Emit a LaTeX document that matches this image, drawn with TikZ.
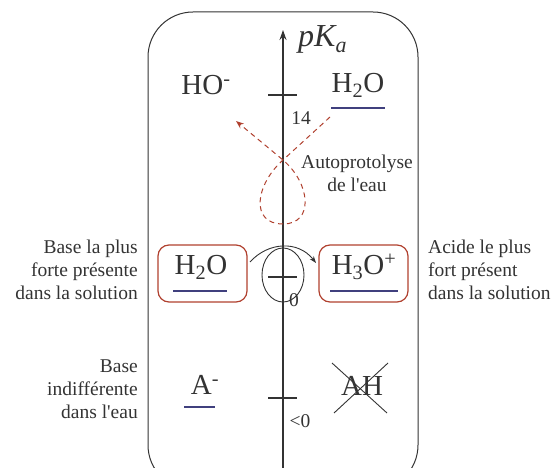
\documentclass[tikz,border=0pt]{standalone}
\usepackage{fontspec}
\setmainfont{Liberation Serif}
\usetikzlibrary{arrows.meta}
\definecolor{ink}{HTML}{333333}
\definecolor{rbox}{HTML}{B0402E}
\definecolor{navy}{HTML}{40407E}
\tikzset{
  big/.style={font=\fontsize{29}{32}\selectfont, text=ink, inner sep=0pt},
  lbl/.style={font=\fontsize{19.5}{23}\selectfont, text=ink, inner sep=0pt},
  ul/.style={navy, line width=1.8pt},
  sp/.style={rbox, line width=1.2pt, rounded corners=11pt},
  tick/.style={ink, line width=1.3pt}
}
\begin{document}
\begin{tikzpicture}[x=1pt,y=-1pt]
\useasboundingbox (0,0) rectangle (559,468);
\clip (0,0) rectangle (559,468);
% frame
\draw[ink, line width=1pt, rounded corners=45pt] (148,12) rectangle (418,490);
% axis
\coordinate (ab) at (283,470);
\coordinate (at) at (283,30);
\draw[ink, line width=1.3pt, -{Stealth[length=10pt,width=7pt]}] (ab) -- (at);
\node[big, anchor=west, font=\fontsize{32}{34}\selectfont\itshape] (pka) at (298,39) {pK\raisebox{-0.45ex}{\fontsize{22}{24}\selectfont a}};
% ticks
\coordinate (t14) at (283,95);
\coordinate (t0) at (283,277);
\coordinate (tn) at (283,398);
\draw[tick] ([xshift=-15pt]t14) -- ([xshift=14pt]t14);
\draw[tick] ([xshift=-15pt]t0) -- ([xshift=14pt]t0);
\draw[tick] ([xshift=-15pt]tn) -- ([xshift=14pt]tn);
\node[lbl] (l14) at (301,118) {14};
\node[lbl] (l0) at (294,300) {0};
\node[lbl] (ln) at (300,421) {<0};
% top species
\node[big] (ho) at (206,85) {HO\textsuperscript{-}};
\node[big] (h2ot) at (358,85) {H\textsubscript{2}O};
\draw[ul] (331,108) -- (385,108);
% autoprotolysis
\node[lbl, align=center] (auto) at (357,173) {Autoprotolyse\\de l\textquotesingle eau};
\coordinate (ds) at (330,117);
\coordinate (dx) at (283,160);
\coordinate (dbot) at (283,224);
\coordinate (de) at (236,121);
\draw[rbox, line width=1pt, dash pattern=on 5pt off 4pt, -{Stealth[length=8pt,width=6pt]}]
  (ds) -- (dx) .. controls (255,185) and (250,224) .. (dbot)
  .. controls (314,224) and (311,184) .. (dx) -- (de);
% middle species
\node[big] (h2om) at (201,267) {H\textsubscript{2}O};
\draw[sp] (158,245) rectangle (247,302);
\draw[ul] (173,291) -- (227,291);
\node[big] (h3o) at (364,267) {H\textsubscript{3}O\textsuperscript{+}};
\draw[sp] (319,245) rectangle (408,302);
\draw[ul] (330,291) -- (398,291);
% black transfer arrow
\coordinate (ta) at (250,262);
\coordinate (tb) at (316,263);
\draw[ink, line width=0.9pt, -{Stealth[length=7pt,width=5pt]}] (ta) .. controls (268,242) and (298,240) .. (tb);
\draw[ink, line width=0.9pt] (283,275) ellipse (21pt and 27pt);
% bottom species
\node[big] (am) at (205,385) {A\textsuperscript{-}};
\draw[ul] (184,407) -- (215,407);
\node[big] (ah) at (362,386) {AH};
\draw[ink, line width=0.9pt] (332,363) -- (387,413);
\draw[ink, line width=0.9pt] (388,363) -- (334,413);
% side labels
\node[lbl, align=right, anchor=east] (bl1) at (138,270) {Base la plus\\forte présente\\dans la solution};
\node[lbl, align=right, anchor=east] (bl2) at (138,389) {Base\\indifférente\\dans l\textquotesingle eau};
\node[lbl, align=left, anchor=west] (ar1) at (428,270) {Acide le plus\\fort présent\\dans la solution};
\end{tikzpicture}
\end{document}
